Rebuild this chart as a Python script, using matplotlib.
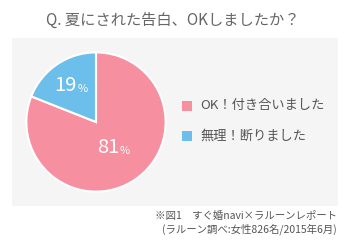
import matplotlib.pyplot as plt
import numpy as np
from matplotlib.patches import Rectangle

plt.rcParams['font.family'] = ['Noto Sans CJK JP', 'DejaVu Sans']

title = 'Q. 夏にされた告白、OKしましたか？'
labels = ['OK！付き合いました', '無理！断りました']
values = [81, 19]
colors = ['#f68fa0', '#6cbfea']
note = ['※図1　すぐ婚navi×ラルーンレポート', '(ラルーン調べ:女性826名/2015年6月)']

W, H = 350, 242
fig = plt.figure(figsize=(W / 100, H / 100), dpi=100)
fig.patch.set_facecolor('white')

# gray panel
fig.add_artist(Rectangle((12 / W, 1 - 206 / H), 326 / W, 168 / H,
                         transform=fig.transFigure, facecolor='#f5f5f5',
                         edgecolor='none', zorder=0))

fig.text(173 / W, 1 - 20 / H, title, ha='center', va='center',
         fontsize=11, color='#666666')

# pie
cx, cy, r = 96, 122, 71
ax = fig.add_axes([(cx - r) / W, 1 - (cy + r) / H, 2 * r / W, 2 * r / H])
wedges, _ = ax.pie(values, colors=colors, startangle=90, counterclock=False,
                   radius=1, wedgeprops=dict(edgecolor='white', linewidth=1.5))
ax.set_xlim(-1.02, 1.02)
ax.set_ylim(-1.02, 1.02)
ax.set_aspect('equal')
ax.axis('off')

label_r = [0.45, 0.63]
for w, v, lr in zip(wedges, values, label_r):
    ang = np.deg2rad((w.theta1 + w.theta2) / 2)
    x, y = lr * np.cos(ang), lr * np.sin(ang)
    ax.text(x + 0.08, y, str(v), ha='right', va='center', fontsize=14.5,
            color='white')
    ax.text(x + 0.09, y - 0.05, '%', ha='left', va='center', fontsize=8,
            color='white')

# legend
leg_y = [106, 136]
for lab, c, ly in zip(labels, colors, leg_y):
    fig.add_artist(Rectangle((182 / W, 1 - (ly + 5) / H), 10 / W, 10 / H,
                             transform=fig.transFigure, facecolor=c,
                             edgecolor='none'))
    fig.text(200 / W, 1 - ly / H, lab, ha='left', va='center',
             fontsize=9.5, color='#555555')

for i, line in enumerate(note):
    fig.text(337 / W, 1 - (216 + i * 13) / H, line, ha='right', va='center',
             fontsize=7.5, color='#555555')

plt.savefig('out.png', dpi=100)
